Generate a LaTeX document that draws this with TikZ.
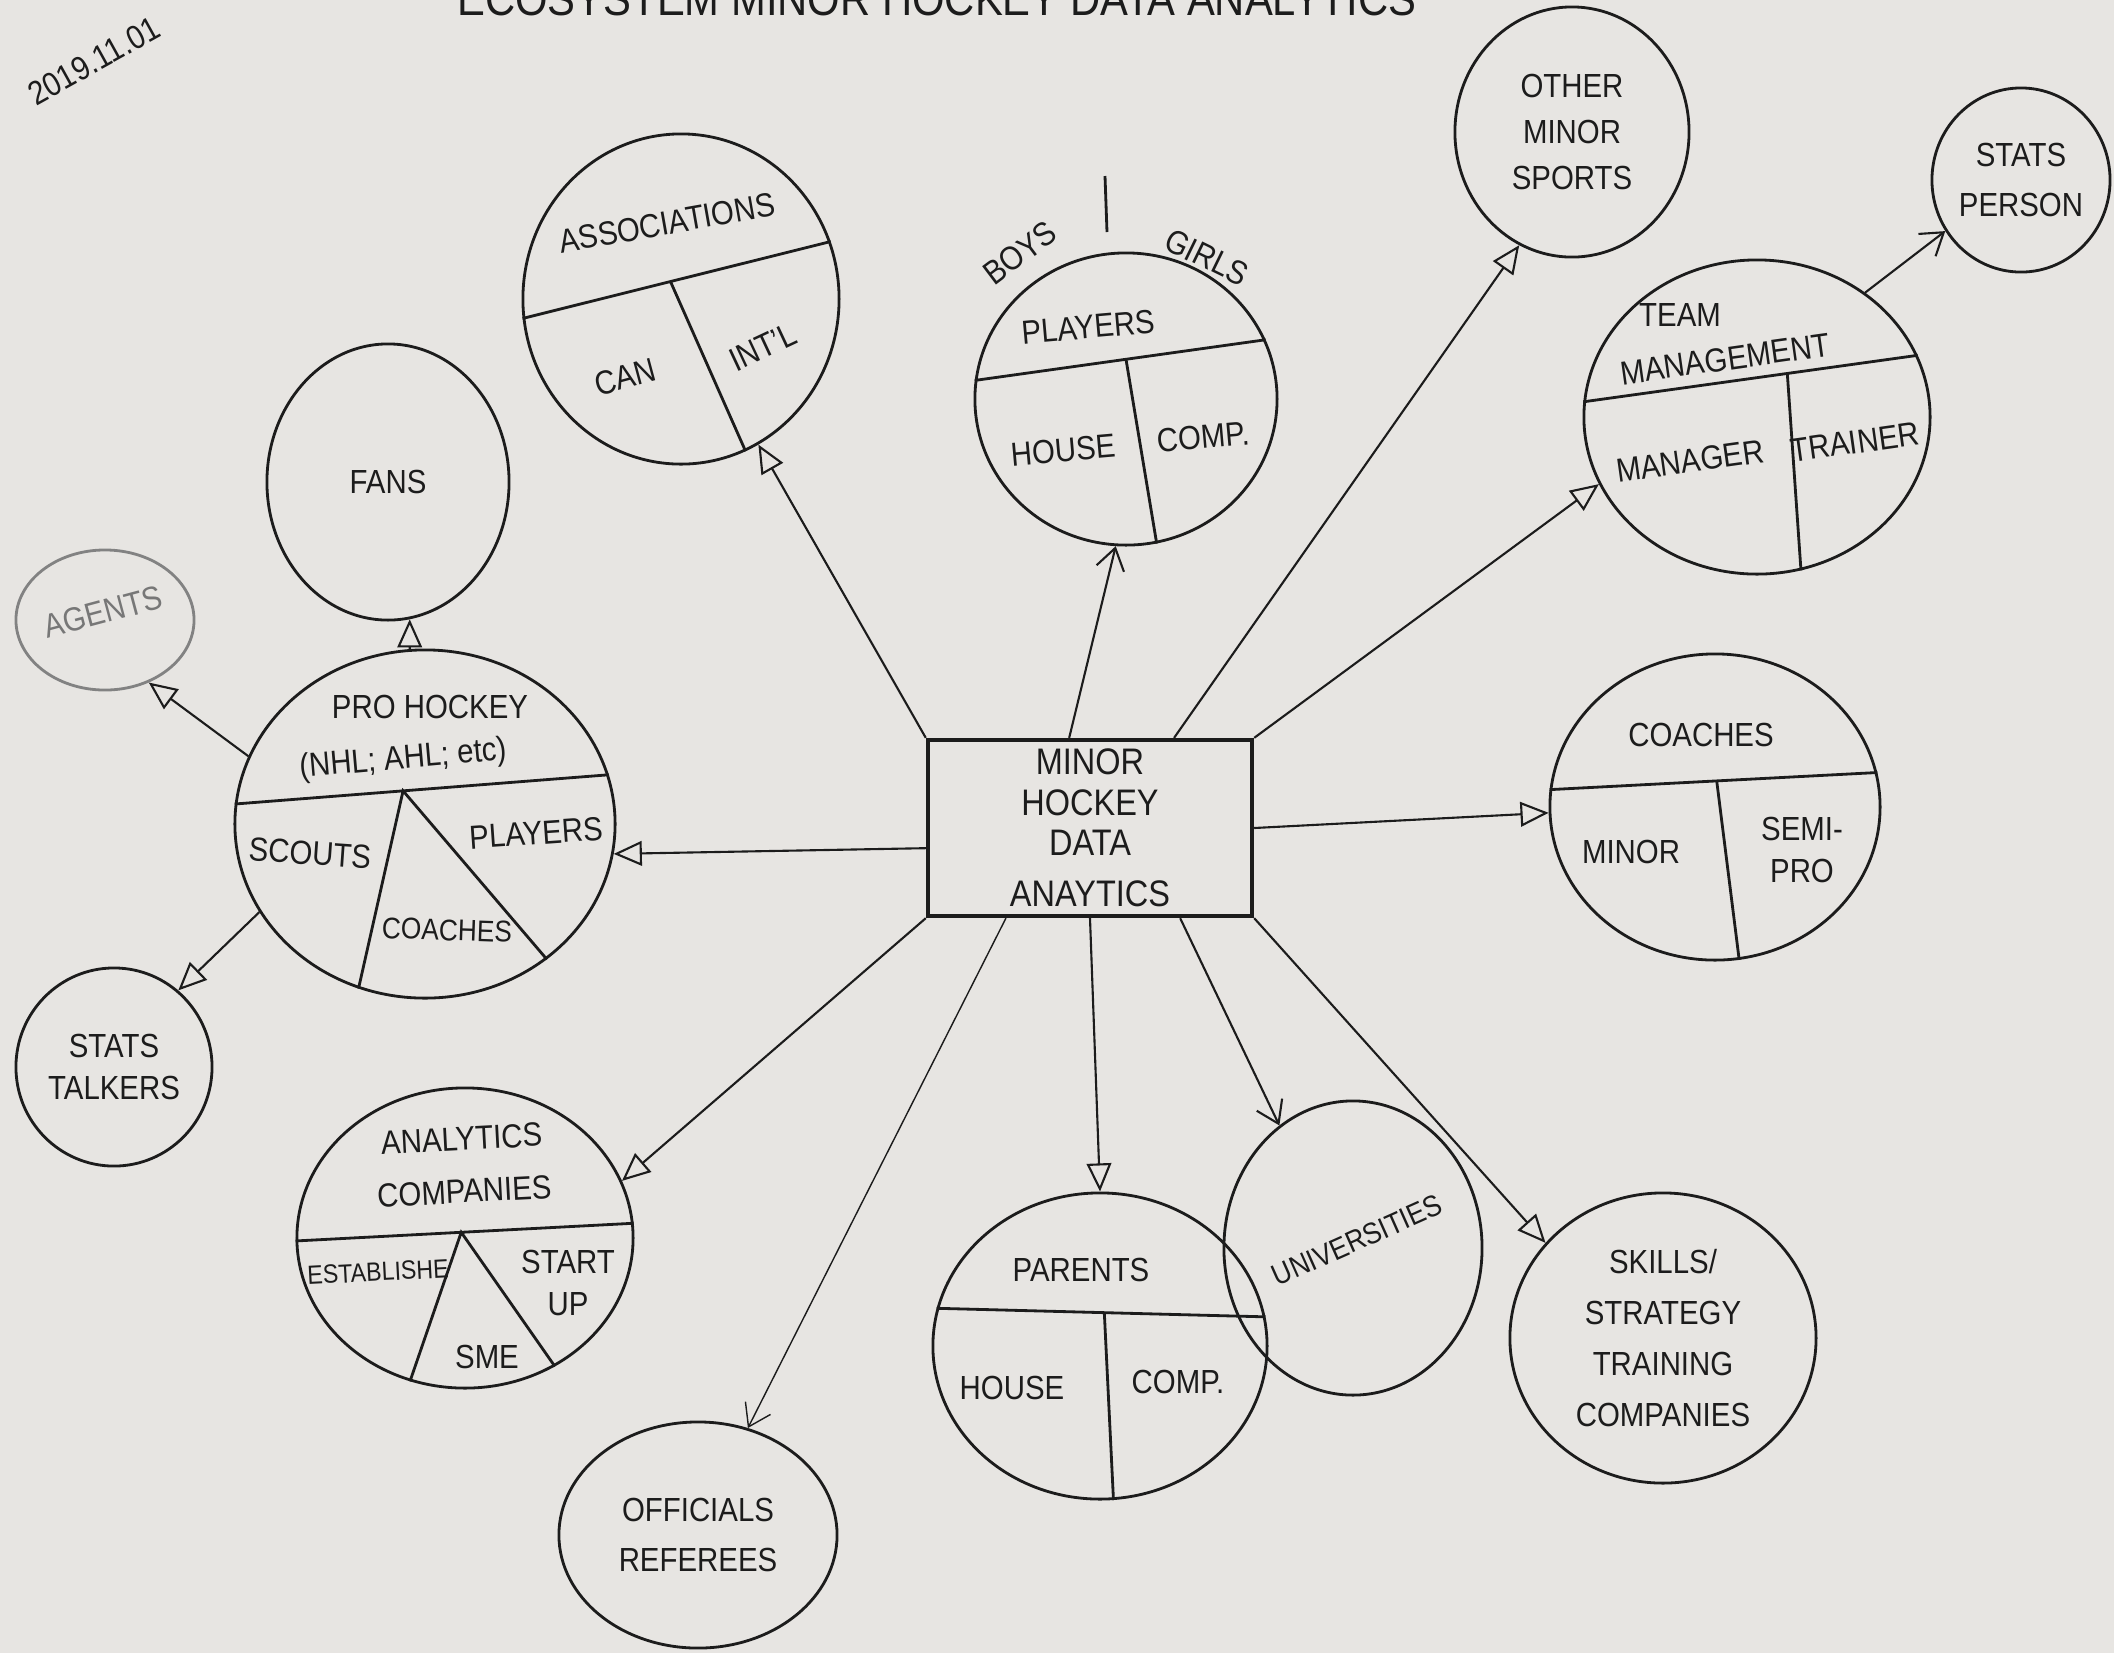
\documentclass[tikz,border=0pt]{standalone}
\usepackage{fontspec}
\setmainfont{Liberation Sans}[FakeStretch=0.88]
\usetikzlibrary{shapes.geometric,arrows.meta,calc}
\definecolor{paper}{RGB}{231,229,226}
\definecolor{ink}{RGB}{28,28,28}
\newcommand{\lblfont}{\fontsize{9.5}{12}\selectfont}
\newcommand{\hubfont}{\fontsize{10.5}{11.5}\selectfont}
\tikzset{
	blob/.style={draw,thick,ellipse,inner sep=0pt,align=center,font=\lblfont},
	lbl/.style={inner sep=1pt,align=center,font=\lblfont},
	tri/.style={semithick,-{Triangle[open,length=8pt,width=7pt]}},
	barb/.style={semithick,-{Straight Barb[length=6pt,width=8pt]}}
}
\begin{document}
\begin{tikzpicture}[x=0.01cm,y=-0.01cm,color=ink]
			\useasboundingbox (0,0) rectangle (2114,1653);
			\fill[paper] (0,0) rectangle (2114,1653);
			\begin{scope}
			\clip (0,0) rectangle (2114,1653);
			\node[anchor=base west,font=\fontsize{13.5}{15}\selectfont] (title) at (445,15) {ECOSYSTEM MINOR HOCKEY DATA ANALYTICS};
			\end{scope}
			\node[lbl,rotate=29,font=\fontsize{9.5}{10}\selectfont] (date) at (94,61) {2019.11.01};
			\node[draw,very thick,minimum width=3.24cm,minimum height=1.76cm,inner sep=1pt,align=center,font=\hubfont] (hub) at (1090,828) {MINOR\\HOCKEY\\DATA\\[3pt]ANAYTICS};
			\node[blob,minimum width=3.16cm,minimum height=3.30cm] (assoc) at (681,299) {};
			\node[blob,minimum width=3.02cm,minimum height=2.92cm] (players) at (1126,399) {};
			\node[blob,minimum width=2.42cm,minimum height=2.76cm] (fans) at (388,482) {FANS};
			\node[blob,minimum width=3.80cm,minimum height=3.48cm] (pro) at (425,824) {};
			\node[blob,draw=ink!55,minimum width=1.78cm,minimum height=1.40cm] (agents) at (105,620) {};
			\node[blob,minimum width=1.96cm,minimum height=1.98cm] (talkers) at (114,1067) {STATS\\TALKERS};
			\node[blob,minimum width=3.36cm,minimum height=3.00cm] (analytics) at (465,1238) {};
			\node[blob,minimum width=2.78cm,minimum height=2.26cm] (officials) at (698,1535) {OFFICIALS\\[2pt]REFEREES};
			\node[blob,minimum width=3.34cm,minimum height=3.06cm] (parents) at (1100,1346) {};
			\node[blob,minimum width=2.58cm,minimum height=2.94cm] (univ) at (1353,1248) {};
			\node[blob,minimum width=3.06cm,minimum height=2.90cm,font=\fontsize{9.5}{14.5}\selectfont] (skills) at (1663,1338) {SKILLS/\\STRATEGY\\TRAINING\\COMPANIES};
			\node[blob,minimum width=3.30cm,minimum height=3.06cm] (coaches) at (1715,807) {};
			\node[blob,minimum width=3.46cm,minimum height=3.14cm] (team) at (1757,417) {};
			\node[blob,minimum width=2.34cm,minimum height=2.50cm,font=\fontsize{9.5}{13}\selectfont] (other) at (1572,132) {OTHER\\MINOR\\SPORTS};
			\node[blob,minimum width=1.78cm,minimum height=1.84cm,font=\fontsize{9.5}{14}\selectfont] (statsp) at (2021,180) {STATS\\PERSON};
			\coordinate (assocapex) at ($(assoc.187)!.48!(assoc.21)$);
			\coordinate (playersapex) at ($(players.173)!.52!(players.23)$);
			\coordinate (proapex) at ($(pro.174)!.45!(pro.15)$);
			\coordinate (analyticsapex) at ($(analytics.181)!.49!(analytics.5)$);
			\coordinate (parentsapex) at ($(parents.167)!.51!(parents.10)$);
			\coordinate (coachesapex) at ($(coaches.174)!.51!(coaches.12)$);
			\coordinate (teamapex) at ($(team.175)!.61!(team.21)$);
			\draw[thick] (assoc.187) -- (assoc.21) (assocapex) -- (assoc.-67);
			\draw[thick] (players.173) -- (players.23) (playersapex) -- (players.-78);
			\draw[thick] (pro.174) -- (pro.15) (pro.-112) -- (proapex) -- (pro.-48);
			\draw[thick] (analytics.181) -- (analytics.5) (analytics.-111) -- (analyticsapex) -- (analytics.-55);
			\draw[thick] (parents.167) -- (parents.10) (parentsapex) -- (parents.-85);
			\draw[thick] (coaches.174) -- (coaches.12) (coachesapex) -- (coaches.-81);
			\draw[thick] (team.175) -- (team.21) (teamapex) -- (team.-74);
			\draw[thick] (1105,176) -- (1107,232);
			\node[lbl,rotate=10] (assoc-t) at (667,223) {ASSOCIATIONS};
			\node[lbl,rotate=15] (assoc-l) at (625,377) {CAN};
			\node[lbl,rotate=25] (assoc-r) at (763,347) {INT'L};
			\node[lbl,rotate=5] (players-t) at (1088,327) {PLAYERS};
			\node[lbl,rotate=5] (players-l) at (1063,450) {HOUSE};
			\node[lbl,rotate=5] (players-r) at (1203,437) {COMP.};
			\node[lbl,rotate=37] (boys) at (1020,253) {BOYS};
			\node[lbl,rotate=-26] (girls) at (1207,257) {GIRLS};
			\node[lbl] (pro-t) at (430,707) {PRO HOCKEY};
			\node[lbl,rotate=5] (pro-s) at (403,760) {(NHL; AHL; etc)};
			\node[lbl,rotate=-4] (pro-l) at (310,853) {SCOUTS};
			\node[lbl,rotate=4] (pro-r) at (536,833) {PLAYERS};
			\node[lbl,rotate=-2,font=\fontsize{8.5}{10}\selectfont] (pro-b) at (447,930) {COACHES};
			\node[lbl,rotate=15,text=ink!60] (agents-t) at (103,612) {AGENTS};
			\node[lbl,rotate=3] (analytics-t) at (463,1165) {ANALYTICS\\[3pt]COMPANIES};
			\node[lbl,rotate=3,font=\fontsize{7.5}{9}\selectfont] (analytics-l) at (378,1272) {ESTABLISHE};
			\node[lbl] (analytics-r) at (568,1283) {START\\UP};
			\node[lbl] (analytics-b) at (487,1357) {SME};
			\node[lbl] (parents-t) at (1081,1270) {PARENTS};
			\node[lbl] (parents-l) at (1012,1388) {HOUSE};
			\node[lbl] (parents-r) at (1178,1382) {COMP.};
			\node[lbl,rotate=24,font=\fontsize{8.5}{10}\selectfont] (univ-t) at (1357,1240) {UNIVERSITIES};
			\node[lbl] (coaches-t) at (1701,735) {COACHES};
			\node[lbl] (coaches-l) at (1631,852) {MINOR};
			\node[lbl] (coaches-r) at (1802,850) {SEMI-\\PRO};
			\node[lbl] (team-t) at (1680,315) {TEAM};
			\node[lbl,rotate=8] (team-s) at (1725,359) {MANAGEMENT};
			\node[lbl,rotate=8] (team-l) at (1690,461) {MANAGER};
			\node[lbl,rotate=8] (team-r) at (1855,442) {TRAINER};
			\draw[barb] (hub.103) -- (players.-94);
			\draw[tri] (hub.north west) -- (assoc.-62);
			\draw[tri] (hub.47) -- (other.-115);
			\draw[tri] (hub.north east) -- (team.203);
			\draw[barb] (team.49) -- (statsp.214);
			\draw[tri] (hub.east) -- (coaches.182);
			\draw[tri] (hub.south east) -- (skills.141);
			\draw[barb] (hub.-45) -- (univ.121);
			\draw[tri] (hub.south) -- (parents.north);
			\draw[barb,thin] (hub.-133) -- (officials.65);
			\draw[tri] (hub.south west) -- (analytics.20);
			\draw[tri] (hub.187) -- (pro.-9);
			\draw[tri] (pro.95) -- (fans.-81);
			\draw[tri] (pro.159) -- (agents.-55);
			\draw[tri] (pro.208) -- (talkers.50);
\end{tikzpicture}
\end{document}
